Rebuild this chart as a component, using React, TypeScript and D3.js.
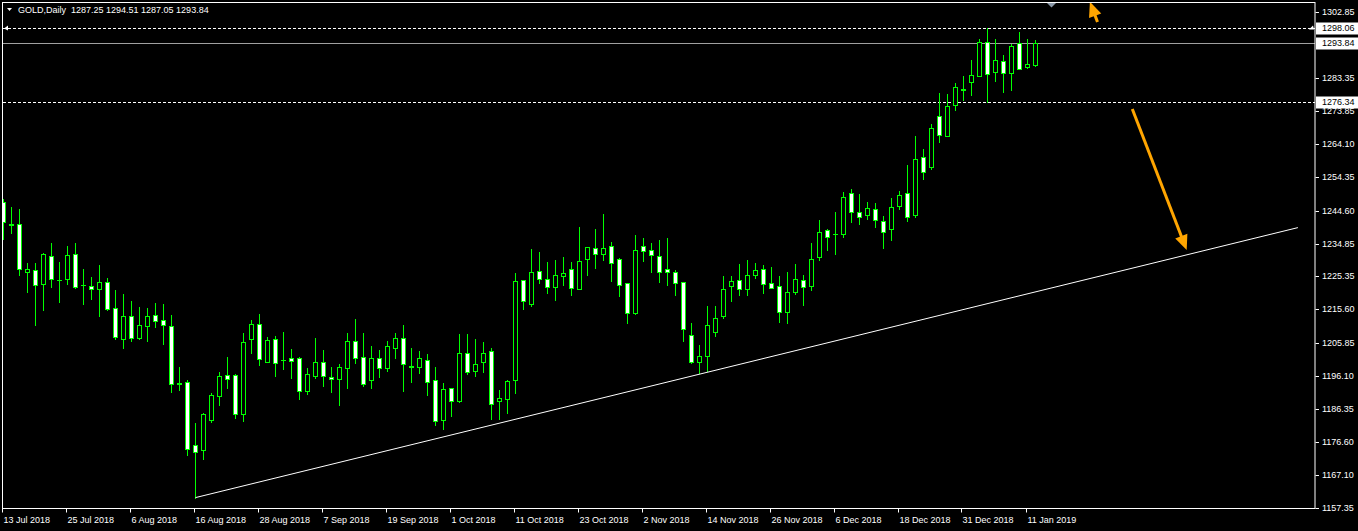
import React from 'react';
import * as d3 from 'd3';

const W = 1358;
const H = 531;

// OHLC per daily bar (13 Jul 2018 .. 14 Jan 2019)
const opens = [1247.02,1240.66,1240.57,1226.49,1227.08,1223.15,1231.18,1224.23,1224.44,1231.77,1222.77,1222.38,1221.50,1223.56,1215.93,1207.01,1213.58,1207.31,1210.82,1213.88,1212.41,1210.65,1193.93,1194.22,1175.74,1174.27,1183.25,1190.29,1196.28,1196.28,1185.01,1207.01,1211.24,1200.26,1206.84,1200.76,1201.26,1201.26,1191.58,1196.16,1200.09,1195.69,1195.10,1198.33,1206.25,1201.56,1194.81,1201.26,1198.33,1204.20,1207.13,1198.92,1198.62,1200.68,1194.81,1183.08,1192.46,1188.65,1202.73,1197.45,1200.09,1203.32,1188.65,1189.24,1194.81,1224.14,1217.28,1226.78,1224.44,1222.09,1225.32,1227.37,1221.50,1230.48,1233.53,1231.77,1234.12,1230.30,1223.26,1214.64,1234.12,1232.94,1231.18,1227.37,1226.49,1223.56,1208.01,1200.26,1201.85,1208.89,1213.58,1222.38,1224.14,1221.50,1225.61,1227.37,1223.26,1222.38,1214.76,1220.62,1224.14,1222.38,1231.07,1238.81,1237.64,1237.64,1249.67,1244.09,1243.21,1244.97,1241.45,1239.11,1245.85,1249.67,1243.21,1260.23,1257.29,1272.25,1266.39,1275.48,1280.17,1282.23,1283.99,1293.96,1285.16,1288.39,1284.87,1293.67,1286.63,1287.25];
const highs = [1247.91,1245.65,1245.06,1229.13,1229.13,1232.15,1235.00,1229.42,1234.21,1235.00,1227.46,1225.02,1228.63,1224.73,1221.30,1220.13,1218.07,1216.31,1216.02,1217.48,1217.19,1213.96,1198.71,1194.90,1182.28,1185.22,1191.08,1197.24,1201.64,1196.66,1208.68,1212.50,1214.26,1207.51,1207.80,1208.98,1203.99,1201.73,1198.33,1207.22,1203.70,1198.62,1199.50,1208.68,1212.79,1208.68,1204.87,1203.70,1206.25,1208.68,1211.03,1204.28,1203.40,1202.52,1198.62,1193.93,1192.46,1208.39,1208.39,1206.92,1206.05,1204.28,1191.88,1194.90,1226.20,1224.14,1233.24,1232.36,1229.51,1230.01,1230.90,1229.42,1239.69,1233.83,1239.11,1243.59,1235.29,1230.60,1223.26,1237.35,1236.46,1235.00,1235.88,1236.46,1227.08,1223.56,1211.53,1205.08,1216.52,1216.52,1225.32,1225.32,1228.84,1230.01,1229.22,1228.63,1228.04,1225.40,1226.58,1228.93,1225.70,1235.09,1241.83,1239.11,1244.18,1250.05,1250.92,1249.46,1247.11,1246.82,1242.92,1248.20,1250.25,1257.88,1266.39,1262.57,1269.91,1279.00,1278.71,1281.93,1283.99,1288.68,1294.84,1298.06,1294.84,1290.15,1293.37,1296.89,1294.84,1294.51];
const lows = [1236.17,1238.02,1225.79,1220.80,1211.03,1215.43,1222.27,1217.87,1223.15,1222.00,1217.28,1218.75,1213.76,1215.43,1207.01,1204.37,1206.43,1207.01,1206.43,1210.53,1205.55,1191.46,1192.05,1172.98,1160.40,1171.81,1182.58,1187.56,1192.55,1183.84,1182.96,1202.91,1199.39,1200.26,1196.07,1198.12,1195.57,1189.41,1190.88,1195.57,1193.22,1191.46,1187.65,1192.64,1199.97,1193.05,1192.64,1195.86,1197.62,1201.26,1191.76,1194.40,1197.04,1190.41,1181.78,1180.61,1184.42,1188.36,1196.57,1195.98,1197.16,1183.37,1183.37,1185.30,1191.17,1215.81,1216.69,1223.26,1220.51,1218.45,1222.85,1219.92,1221.50,1225.61,1227.84,1230.01,1224.03,1219.63,1211.70,1214.34,1229.72,1226.67,1223.56,1222.85,1219.92,1206.43,1199.97,1196.86,1197.62,1207.72,1213.17,1217.98,1219.92,1219.74,1224.73,1220.33,1221.80,1211.82,1211.53,1220.04,1216.81,1221.21,1230.10,1233.00,1231.86,1236.93,1241.33,1240.75,1242.04,1239.87,1233.62,1235.97,1244.97,1241.63,1242.62,1253.77,1256.70,1264.63,1266.39,1274.01,1276.95,1278.41,1283.99,1276.34,1282.52,1279.29,1279.88,1286.04,1286.34,1287.05];
const closes = [1241.33,1240.50,1227.55,1227.37,1222.68,1231.77,1224.44,1224.10,1231.48,1222.27,1222.70,1221.50,1223.56,1215.81,1207.60,1213.58,1207.31,1210.94,1213.58,1212.29,1211.12,1193.63,1193.85,1174.74,1173.86,1184.83,1190.41,1195.98,1195.28,1185.01,1205.96,1211.24,1200.97,1206.54,1199.80,1200.70,1200.56,1191.58,1196.57,1200.09,1195.98,1195.10,1198.62,1206.25,1201.26,1193.63,1201.26,1198.33,1204.90,1207.13,1199.50,1198.85,1201.26,1194.22,1182.78,1192.17,1188.65,1202.73,1197.16,1199.50,1202.73,1187.77,1189.53,1194.52,1223.85,1217.98,1226.49,1224.44,1222.09,1225.61,1226.20,1221.80,1229.72,1233.83,1231.77,1233.53,1229.13,1222.68,1214.46,1232.94,1232.65,1231.48,1226.49,1226.49,1223.26,1209.77,1200.26,1201.85,1210.94,1213.00,1221.50,1223.85,1221.50,1225.61,1227.08,1222.97,1221.80,1214.76,1220.62,1224.44,1222.09,1230.30,1238.31,1236.76,1237.60,1248.49,1244.09,1242.62,1245.27,1241.74,1238.22,1245.56,1249.08,1242.62,1259.64,1255.83,1268.73,1266.68,1275.19,1280.76,1280.10,1284.28,1293.96,1284.57,1288.68,1284.87,1292.79,1286.04,1287.51,1293.84];

const dateLabels = ['13 Jul 2018','25 Jul 2018','6 Aug 2018','16 Aug 2018','28 Aug 2018','7 Sep 2018','19 Sep 2018','1 Oct 2018','11 Oct 2018','23 Oct 2018','2 Nov 2018','14 Nov 2018','26 Nov 2018','6 Dec 2018','18 Dec 2018','31 Dec 2018','11 Jan 2019'];
const dateIndex = [0,8,16,24,32,40,48,56,64,72,80,88,96,104,112,120,128];

const priceTicks = ['1302.85','1283.35','1273.85','1264.10','1254.35','1244.60','1234.85','1225.35','1215.60','1205.85','1196.10','1186.35','1176.60','1167.10','1157.35'];

const dashedLevels = [1298.06, 1276.34];
const bidLevel = 1293.84;
const boxLabels = ['1298.06', '1293.84', '1276.34'];

// trendline and arrows in (bar index, price)
const trendline: [number, number][] = [[24, 1160.4], [161.8, 1239.6]];
const arrowLong: [number, number][] = [[141.1, 1274.4], [147.9, 1233.0]];
const arrowShort: [number, number][] = [[136.75, 1299.9], [135.8, 1305.87]];

const header = 'GOLD,Daily  1287.25 1294.51 1287.05 1293.84';

const FONT = '"Liberation Sans", Arial, sans-serif';
const LIME = '#00ff00';

const R = 1315; // right edge of plot
const B = 508; // bottom edge of plot

function Arrow({ p0, p1, x, y }: any) {
  const x0 = x(p0[0]), y0 = y(p0[1]), x1 = x(p1[0]), y1 = y(p1[1]);
  const dx = x1 - x0, dy = y1 - y0;
  const len = Math.sqrt(dx * dx + dy * dy);
  const ux = dx / len, uy = dy / len;
  const hl = 15, hw = 6.5;
  const bx = x1 - ux * hl, by = y1 - uy * hl;
  const pts = [
    [x1, y1],
    [bx - uy * hw, by + ux * hw],
    [bx + uy * hw, by - ux * hw],
  ].map((p) => p.join(',')).join(' ');
  return (
    <g>
      <line x1={x0} y1={y0} x2={bx + ux * 2} y2={by + uy * 2} stroke="#ffa500" strokeWidth={3} />
      <polygon points={pts} fill="#ffa500" />
    </g>
  );
}

export default function App() {
  const x = d3.scaleLinear().domain([0, 129]).range([3.5, 1035.5]);
  const y = d3.scaleLinear().domain([1157.35, 1302.85]).range([508, 12]);
  const ry = (v: number) => Math.round(y(v)) + 0.5;

  const candles = opens.map((o, i) => {
    const c = closes[i];
    const xc = x(i);
    const top = ry(Math.max(o, c));
    const bot = ry(Math.min(o, c));
    const bull = c > o;
    const wick = (
      <line key={'w' + i} x1={xc} x2={xc} y1={Math.round(y(highs[i]))} y2={Math.round(y(lows[i])) + 1} stroke={LIME} strokeWidth={1} />
    );
    let body;
    if (bot - top < 1) {
      body = <line key={'b' + i} x1={xc - 2.5} x2={xc + 2.5} y1={top} y2={top} stroke={LIME} strokeWidth={1} />;
    } else {
      body = (
        <rect key={'b' + i} x={xc - 2} y={top} width={4} height={bot - top} fill={bull ? '#000' : '#fff'} stroke={LIME} strokeWidth={1} />
      );
    }
    return <g key={i}>{wick}{body}</g>;
  });

  const line = d3.line<[number, number]>().x((d) => x(d[0])).y((d) => y(d[1]));

  const boxVals = boxLabels.map((s) => parseFloat(s));

  return (
    <svg width={W} height={H} style={{ position: 'absolute', left: 0, top: 0, display: 'block', background: '#000' }}>
      <rect x={0} y={0} width={W} height={H} fill="#000" />
      <defs>
        <clipPath id="plot">
          <rect x={3} y={3} width={R - 3} height={B - 3} />
        </clipPath>
      </defs>
      <g clipPath="url(#plot)">
        {/* levels */}
        {dashedLevels.map((v, i) => (
          <line key={'dl' + i} x1={3} x2={R} y1={ry(v)} y2={ry(v)} stroke="#fff" strokeWidth={1} strokeDasharray="3,2" />
        ))}
        <line x1={3} x2={R} y1={ry(bidLevel)} y2={ry(bidLevel)} stroke="#a0a0a0" strokeWidth={1} />
        {candles}
        <path d={line(trendline) || ''} stroke="#fff" strokeWidth={1} fill="none" />
        <Arrow p0={arrowLong[0]} p1={arrowLong[1]} x={x} y={y} />
        <Arrow p0={arrowShort[0]} p1={arrowShort[1]} x={x} y={y} />
        {/* alert markers on the high level */}
        <polygon points={`4,${ry(dashedLevels[0])} 8,${ry(dashedLevels[0]) - 3} 8,${ry(dashedLevels[0]) + 2}`} fill="#fff" />
        <polygon points={`1309,${ry(dashedLevels[0]) + 1} 1313,${ry(dashedLevels[0]) - 3} 1314,${ry(dashedLevels[0]) + 1}`} fill="#fff" />
        {/* chart shift marker */}
        <polygon points="1047,3 1056,3 1051.5,7.5" fill="#8a98a8" />
      </g>
      {/* frame */}
      <rect x={2.5} y={2.5} width={R - 2.5} height={B - 2} fill="none" stroke="#fff" strokeWidth={1} />

      {/* header */}
      <polygon points="7,8 12,8 9.5,11" fill="#fff" />
      <text x={18} y={10.5} fill="#fff" fontFamily={FONT} fontSize={9} dominantBaseline="middle" xmlSpace="preserve" style={{ whiteSpace: 'pre' }}>
        {header}
      </text>

      {/* price axis */}
      {priceTicks.map((t, i) => {
        const yy = Math.round(y(parseFloat(t))) + 0.5;
        return (
          <g key={'pt' + i}>
            <line x1={R + 0.5} x2={R + 4} y1={yy} y2={yy} stroke="#fff" strokeWidth={1} />
            <text x={1322} y={yy + 0.5} fill="#fff" fontFamily={FONT} fontSize={9} dominantBaseline="middle">{t}</text>
          </g>
        );
      })}
      {boxLabels.map((t, i) => {
        const yy = Math.round(y(boxVals[i])) + 0.5;
        return (
          <g key={'bl' + i}>
            <rect x={1316} y={yy - 6} width={42} height={12} fill="#fff" />
            <text x={1322} y={yy + 0.5} fill="#000" fontFamily={FONT} fontSize={9} dominantBaseline="middle">{t}</text>
          </g>
        );
      })}

      {/* time axis */}
      {dateIndex.map((di, k) => {
        const xx = Math.round(x(di)) - 1.5;
        return (
          <g key={'dt' + k}>
            <line x1={xx} x2={xx} y1={B} y2={B + 4.5} stroke="#fff" strokeWidth={1} />
            <text x={xx + 1} y={520.5} fill="#fff" fontFamily={FONT} fontSize={9} dominantBaseline="middle">{dateLabels[k]}</text>
          </g>
        );
      })}
    </svg>
  );
}
